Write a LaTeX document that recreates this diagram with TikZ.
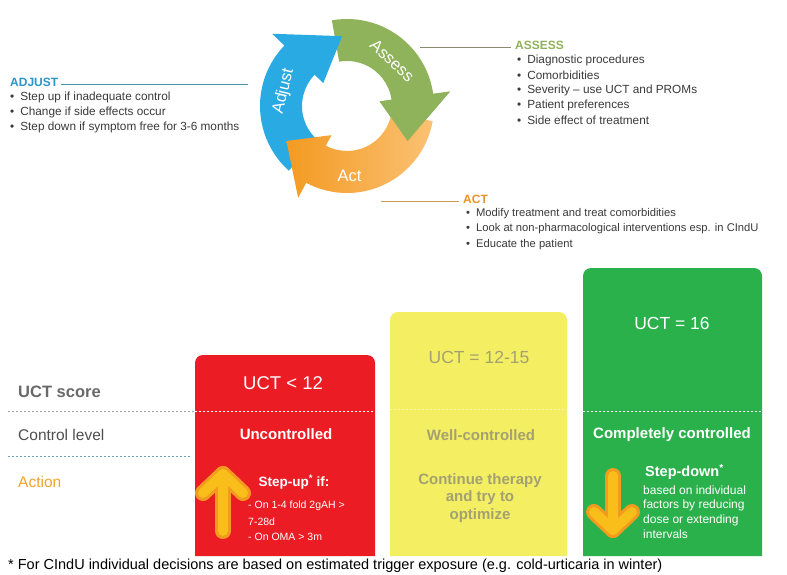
\documentclass[tikz,border=0pt]{standalone}
\usepackage{fontspec}
\setmainfont{Liberation Sans}
\usetikzlibrary{calc}

\definecolor{cycgreen}{HTML}{8FB35A}
\definecolor{cycblue}{HTML}{2AAAE2}
\definecolor{cycorange}{HTML}{F39A22}
\definecolor{cycorangelt}{HTML}{FBC173}
\definecolor{hdadjust}{HTML}{2E93C6}
\definecolor{hdassess}{HTML}{90B25A}
\definecolor{hdact}{HTML}{E8922B}
\definecolor{lnadjust}{HTML}{4E93AC}
\definecolor{lnassess}{HTML}{8C8A6E}
\definecolor{lnact}{HTML}{C99A52}
\definecolor{boxred}{HTML}{EC1C24}
\definecolor{boxyellow}{HTML}{F3EE62}
\definecolor{boxgreen}{HTML}{2BB14B}
\definecolor{yltext}{HTML}{A3A172}
\definecolor{arrowgold}{HTML}{F9BE1A}
\definecolor{arrowedge}{HTML}{F29B1E}
\definecolor{bodytext}{HTML}{3A3A3A}
\definecolor{rowlabel}{HTML}{4F4F4F}
\definecolor{actionlbl}{HTML}{F0A42C}
\definecolor{sepblue}{HTML}{6FA3BC}

% one curved arrow of the cycle: start angle, head-base angle, tip angle, fill options
\newcommand{\cycarrow}[4]{%
  \path[#4] (#1:87) arc[start angle=#1, end angle=#2, radius=87]
    -- (#2:104) -- (#3:70) -- (#2:33) -- (#2:45)
    arc[start angle=#2, end angle=#1, radius=45] -- cycle;}
% only the head of such an arrow
\newcommand{\cychead}[4]{%
  \path[#4] (#2:87) -- (#2:104) -- (#3:70) -- (#2:33) -- (#2:45) -- cycle;}

\begin{document}
\begin{tikzpicture}[x=1pt,y=-1pt,
  hd/.style={font=\bfseries\fontsize{12}{14}\selectfont, anchor=west, inner sep=0pt},
  bul/.style={font=\fontsize{11.8}{14}\selectfont, text=bodytext, anchor=west, inner sep=0pt},
  ringlbl/.style={font=\fontsize{16.5}{18}\selectfont, text=white, inner sep=0pt},
  rowhd/.style={anchor=west, inner sep=0pt, text=rowlabel},
  boxbig/.style={font=\fontsize{17.5}{20}\selectfont, inner sep=0pt},
  boxbold/.style={font=\bfseries\fontsize{15}{17}\selectfont, inner sep=0pt},
  boxsmall/.style={font=\fontsize{10.5}{12}\selectfont, text=white, anchor=west, inner sep=0pt},
  grsmall/.style={font=\fontsize{12}{14}\selectfont, text=white, anchor=west, inner sep=0pt},
  sepline/.style={dash pattern=on 2pt off 2pt, line width=0.8pt},
  arrowout/.style={draw=arrowedge, line width=16pt, line cap=round, line join=round},
  arrowin/.style={draw=arrowgold, line width=10pt, line cap=round, line join=round},
  leader/.style={line width=0.9pt},
  box/.style={rounded corners=8pt}
]
\useasboundingbox (0,0) rectangle (787,575);
\fill[white] (0,0) rectangle (787,575);

% ---------- the Assess / Act / Adjust cycle ----------
\begin{scope}[shift={(347,106)}, x=1pt, y=1pt]
  \cycarrow{100}{8}{-30}{fill=cycgreen}
  \cycarrow{228}{136}{94}{fill=cycblue}
  \cycarrow{-10}{-118}{-150}{left color=cycorange, right color=cycorangelt}
  \cychead{100}{8}{-30}{fill=cycgreen}
  \node[ringlbl, rotate=-43] (lblassess) at (45:64) {Assess};
  \node[ringlbl, rotate=76] (lbladjust) at (167:65) {Adjust};
  \node[ringlbl] (lblact) at (272:70) {Act};
\end{scope}

% ---------- ADJUST ----------
\node[hd, text=hdadjust] (adjust) at (10,82) {ADJUST};
\coordinate (adjustend) at (248,84);
\draw[leader, lnadjust] ($(adjust.east)+(3,2)$) -- (adjustend);
\node[bul] (adj1) at (10,97) {•\hspace{6pt}Step up if inadequate control};
\node[bul] (adj2) at (10,112) {•\hspace{6pt}Change if side effects occur};
\node[bul] (adj3) at (10,127) {•\hspace{6pt}Step down if symptom free for 3-6 months};

% ---------- ASSESS ----------
\node[hd, text=hdassess] (assess) at (515,45) {ASSESS};
\coordinate (assessstart) at (420,47);
\draw[leader, lnassess] (assessstart) -- ($(assess.west)+(-4,2)$);
\node[bul] (as1) at (517,60) {•\hspace{6pt}Diagnostic procedures};
\node[bul] (as2) at (517,75) {•\hspace{6pt}Comorbidities};
\node[bul] (as3) at (517,90) {•\hspace{6pt}Severity – use UCT and PROMs};
\node[bul] (as4) at (517,105) {•\hspace{6pt}Patient preferences};
\node[bul] (as5) at (517,120) {•\hspace{6pt}Side effect of treatment};

% ---------- ACT ----------
\node[hd, text=hdact] (act) at (463,199) {ACT};
\coordinate (actstart) at (381,201);
\draw[leader, lnact] (actstart) -- ($(act.west)+(-4,2)$);
\node[bul, font=\fontsize{11.2}{14}\selectfont] (ac1) at (466,214) {•\hspace{6pt}Modify treatment and treat comorbidities};
\node[bul, font=\fontsize{11.2}{14}\selectfont] (ac2) at (466,229) {•\hspace{6pt}Look at non-pharmacological interventions esp. in CIndU};
\node[bul, font=\fontsize{11.2}{14}\selectfont] (ac3) at (466,245) {•\hspace{6pt}Educate the patient};

% ---------- control-level columns ----------
\fill[boxred, box] (195,556) -- (195,355) -- (375,355) -- (375,556);
\fill[boxyellow, box] (390,556) -- (390,312) -- (567,312) -- (567,556);
\fill[boxgreen, box] (583,556) -- (583,268) -- (762,268) -- (762,556);

% row separators
\draw[sepline, gray!70] (8,411) -- (195,411);
\draw[sepline, white] (195,411) -- (375,411);
\draw[sepline, white, opacity=0.45] (390,409) -- (567,409);
\draw[sepline, white] (583,411) -- (762,411);
\draw[sepline, sepblue] (8,456) -- (190,456);

% row headings
\node[rowhd, font=\bfseries\fontsize{16.5}{19}\selectfont, text=rowlabel!85] (rowuct) at (18,392) {UCT score};
\node[rowhd, font=\fontsize{15.5}{18}\selectfont] (rowctrl) at (18,435) {Control level};
\node[rowhd, font=\fontsize{15.5}{18}\selectfont, text=actionlbl] (rowact) at (18,482) {Action};

% uncontrolled column
\node[boxbig, text=white, font=\fontsize{18.5}{20}\selectfont] (redscore) at (283,383) {UCT < 12};
\node[boxbold, text=white] (redlevel) at (286,434) {Uncontrolled};
\node[boxbold, text=white, font=\bfseries\fontsize{13.5}{16}\selectfont] (redaction) at (294,482) {Step-up\textsuperscript{*} if:};
\node[boxsmall] (red1) at (248,506) {- On 1-4 fold 2gAH >};
\node[boxsmall] (red2) at (248,522) {7-28d};
\node[boxsmall] (red3) at (248,537) {- On OMA > 3m};
\draw[arrowout] (223,531) -- (223,474);
\draw[arrowout] (203,493) -- (223,474) -- (243,493);
\draw[arrowin] (223,531) -- (223,474);
\draw[arrowin] (203,493) -- (223,474) -- (243,493);

% well-controlled column
\node[boxbig, text=yltext] (ylscore) at (479,357) {UCT = 12-15};
\node[boxbold, text=yltext] (yllevel) at (481,435) {Well-controlled};
\node[boxbold, text=yltext, align=center, font=\bfseries\fontsize{15}{17.5}\selectfont] (ylaction) at (480,498) {Continue therapy\\and try to\\optimize};

% completely controlled column
\node[boxbig, text=white] (grscore) at (672,323) {UCT = 16};
\node[boxbold, text=white] (grlevel) at (672,435) {Completely controlled};
\node[boxbold, text=white, anchor=west, font=\bfseries\fontsize{14.5}{16}\selectfont] (graction) at (645,472) {Step-down\textsuperscript{*}};
\node[grsmall] (gr1) at (643,490) {based on individual};
\node[grsmall] (gr2) at (643,505) {factors by reducing};
\node[grsmall] (gr3) at (643,520) {dose or extending};
\node[grsmall] (gr4) at (643,534) {intervals};
\draw[arrowout] (613,476) -- (613,530);
\draw[arrowout] (594,512) -- (613,530) -- (632,512);
\draw[arrowin] (613,476) -- (613,530);
\draw[arrowin] (594,512) -- (613,530) -- (632,512);

% footnote
\node[anchor=west, inner sep=0pt, font=\fontsize{14.5}{16}\selectfont] (foot) at (8,566)
  {* For CIndU individual decisions are based on estimated trigger exposure (e.g. cold-urticaria in winter)};
\end{tikzpicture}
\end{document}
